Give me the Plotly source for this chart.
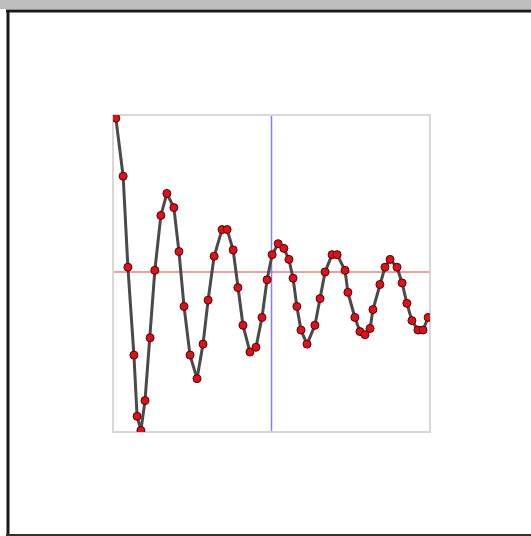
import plotly.graph_objects as go

# sample times and damped response
t = [0.09, 0.32, 0.47, 0.66, 0.76, 0.88, 1.01, 1.17, 1.32, 1.51,
     1.70, 1.92, 2.08, 2.24, 2.43, 2.65, 2.84, 3.00, 3.19, 3.44,
     3.60, 3.79, 3.94, 4.10, 4.32, 4.51, 4.70, 4.86, 5.02, 5.21,
     5.39, 5.55, 5.68, 5.80, 5.93, 6.12, 6.37, 6.53, 6.69, 6.91,
     7.07, 7.32, 7.41, 7.63, 7.79, 7.95, 8.11, 8.20, 8.42, 8.58,
     8.74, 8.96, 9.12, 9.27, 9.43, 9.62, 9.78, 9.94]
response = [0.98, 0.61, 0.03, -0.53, -0.92, -1.01, -0.82, -0.42, 0.01, 0.36,
            0.50, 0.41, 0.13, -0.22, -0.53, -0.68, -0.46, -0.18, 0.10, 0.27,
            0.27, 0.14, -0.10, -0.34, -0.51, -0.48, -0.29, -0.05, 0.11, 0.18,
            0.15, 0.08, -0.04, -0.22, -0.37, -0.46, -0.34, -0.17, 0.00, 0.11,
            0.11, 0.01, -0.13, -0.29, -0.38, -0.40, -0.36, -0.24, -0.08, 0.03,
            0.08, 0.03, -0.07, -0.20, -0.31, -0.37, -0.37, -0.29]

x_mid = 5.0
y_ref = 0.0

W, H = 531, 536
L, R, T, B = 113, 430, 115, 432


def px(x):
    return (x - L) / (R - L)


def py(y):
    return (B - y) / (B - T)


fig = go.Figure()

fig.add_trace(
    go.Scatter(
        x=t,
        y=response,
        mode="lines+markers",
        line=dict(color="#4a4a4a", width=3),
        marker=dict(size=8, color="#e0101a", line=dict(color="#5a0000", width=1)),
        hoverinfo="skip",
    )
)

fig.add_hline(y=y_ref, line_color="#e88080", line_width=1.5, layer="below")
fig.add_vline(x=x_mid, line_color="#8080ff", line_width=1.5, layer="below")

shapes = [
    # plot box
    dict(type="rect", xref="paper", yref="paper", x0=0, x1=1, y0=0, y1=1,
         line=dict(color="#d8d8d8", width=2), layer="below"),
    # grey strip at top of the window
    dict(type="rect", xref="paper", yref="paper", x0=px(0), x1=px(W),
         y0=py(0), y1=py(9), fillcolor="#bdbdbd", line_width=0),
    # dark frame
    dict(type="line", xref="paper", yref="paper", x0=px(6), x1=px(W),
         y0=py(11), y1=py(11), line=dict(color="#1a1a1a", width=3)),
    dict(type="line", xref="paper", yref="paper", x0=px(8), x1=px(8),
         y0=py(10), y1=py(536), line=dict(color="#1a1a1a", width=3)),
    dict(type="line", xref="paper", yref="paper", x0=px(6), x1=px(W),
         y0=py(535), y1=py(535), line=dict(color="#333333", width=2)),
]

fig.update_layout(
    width=W,
    height=H,
    margin=dict(l=L, r=W - R, t=T, b=H - B),
    paper_bgcolor="white",
    plot_bgcolor="white",
    showlegend=False,
    shapes=list(fig.layout.shapes) + shapes,
)
fig.update_xaxes(range=[0, 10], visible=False, showgrid=False, zeroline=False)
fig.update_yaxes(range=[-1.02, 1.0], visible=False, showgrid=False, zeroline=False)

fig.write_html(
    "out.html",
    config={"displayModeBar": False},
    post_script="document.body.style.margin='0';document.body.style.overflow='hidden';",
)
